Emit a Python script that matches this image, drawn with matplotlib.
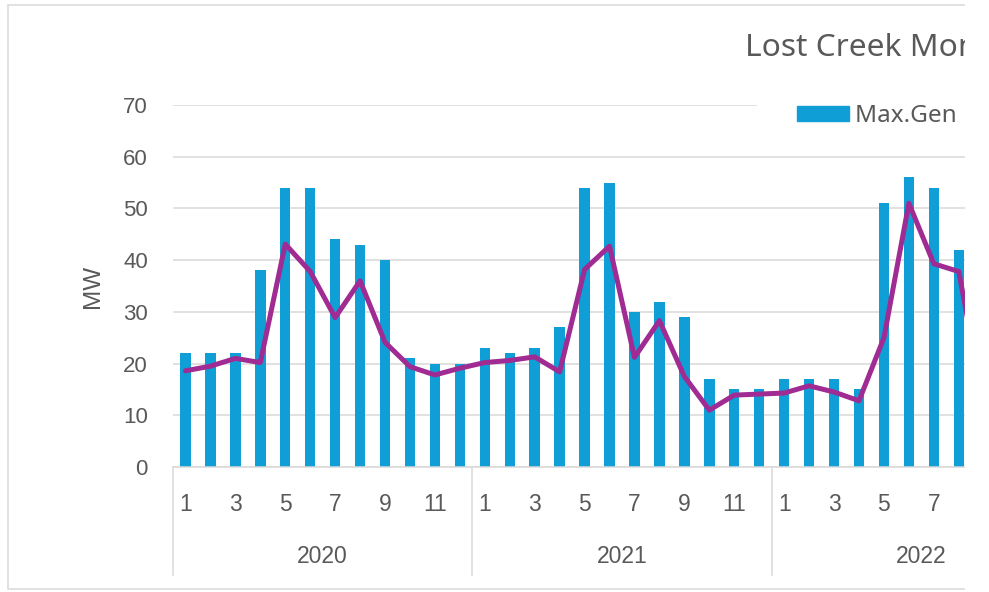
import matplotlib
matplotlib.use("Agg")
import matplotlib.pyplot as plt
from matplotlib.patches import Rectangle
from matplotlib.transforms import blended_transform_factory
import numpy as np

# monthly data, Jan 2020 .. Sep 2022 (chart is cut off on the right)
years = ["2020", "2021", "2022"]
months = [1, 2, 3, 4, 5, 6, 7, 8, 9, 10, 11, 12]
max_gen = [22, 22, 22, 38, 54, 54, 44, 43, 40, 21, 20, 20,
           23, 22, 23, 27, 54, 55, 30, 32, 29, 17, 15, 15,
           17, 17, 17, 15, 51, 56, 54, 42, 30]
avg_gen = [18.6, 19.5, 21.0, 20.2, 43.1, 37.8, 28.9, 36.0, 24.1, 19.4, 17.8, 19.1,
           20.2, 20.6, 21.3, 18.4, 38.2, 42.7, 21.2, 28.3, 17.5, 11.0, 13.9, 14.1,
           14.3, 15.7, 14.5, 12.8, 25.0, 51.0, 39.3, 37.8, 12.0]

BAR_COLOR = "#0F9ED5"
LINE_COLOR = "#A02B93"
GRID_COLOR = "#D9D9D9"
TEXT_COLOR = "#595959"

W, H = 989, 592
plt.rcParams["font.family"] = ["Liberation Sans", "DejaVu Sans"]

fig = plt.figure(figsize=(W / 100, H / 100), dpi=100)


def px(x0, y0, x1, y1):
    """pixel box (top-left origin) -> figure fraction rect"""
    return [x0 / W, 1 - y1 / H, (x1 - x0) / W, (y1 - y0) / H]


ax = fig.add_axes(px(173, 105, 965, 467))

n = len(max_gen)
x = np.arange(n)
ax.bar(x, max_gen, width=0.42, color=BAR_COLOR, zorder=2)
ax.plot(x, avg_gen, color=LINE_COLOR, lw=3.6, solid_joinstyle="round",
        solid_capstyle="round", zorder=3)

# month ticks (odd months only)
month_labels = [m for _ in years for m in months][:n]
odd = [i for i in range(n) if month_labels[i] % 2 == 1]
ax.set_xticks(odd)
ax.set_xticklabels([str(month_labels[i]) for i in odd])
ax.tick_params(axis="x", length=0, pad=19, labelsize=16.5, labelcolor=TEXT_COLOR)
ax.tick_params(axis="y", length=0, pad=18, labelsize=16, labelcolor=TEXT_COLOR)

# limits after set_xticks (it would widen the view otherwise)
ax.set_xlim(-0.5, 31.25)
ax.set_ylim(0, 70)
ax.set_yticks(range(0, 71, 10))
ax.grid(axis="y", color=GRID_COLOR, lw=1.1, zorder=0)
ax.set_axisbelow(True)
for s in ["top", "right", "left"]:
    ax.spines[s].set_visible(False)
ax.spines["bottom"].set_color(GRID_COLOR)
ax.spines["bottom"].set_linewidth(1.1)

# year labels and separators
trans = blended_transform_factory(ax.transData, ax.transAxes)
for k, yr in enumerate(years):
    left = k * 12 - 0.5
    ax.plot([left, left], [0, -0.298], transform=trans, color=GRID_COLOR,
            lw=1.1, clip_on=False)
    ax.text(left + 6, -0.246, yr, transform=trans, ha="center", va="center",
            fontsize=16.5, color=TEXT_COLOR, clip_on=False)
ax.set_xlim(-0.5, 31.25)

ax.set_ylabel("MW", fontsize=17.5, color=TEXT_COLOR, labelpad=14)

# outer chart border
fig.add_artist(Rectangle((8 / W, 1 - 589 / H), (W - 8) / W, (589 - 5) / H,
                         transform=fig.transFigure, fill=False,
                         edgecolor=GRID_COLOR, lw=1.1, zorder=1))

# legend area (hides top gridline)
fig.add_artist(Rectangle((757 / W, 1 - 130 / H), (965 - 757) / W, 28 / H,
                         transform=fig.transFigure, facecolor="white",
                         edgecolor="none", zorder=2))
bar_h = plt.Rectangle((0, 0), 1, 1, color=BAR_COLOR)
line_h = plt.Line2D([], [], color=LINE_COLOR, lw=3.6)
fig.legend([bar_h, line_h], ["Max.Gen MW", "Avg.Gen MW"], ncol=2,
           loc="center left", bbox_to_anchor=(797 / W, 1 - 116 / H),
           frameon=False, handlelength=2.14, handleheight=0.62,
           handletextpad=0.25, borderpad=0, borderaxespad=0,
           labelcolor=TEXT_COLOR, prop={"family": "Noto Sans", "size": 17.5})

fig.text(745 / W, 1 - 48 / H, "Lost Creek Monthly Generation", ha="left",
         va="center", fontsize=22.8, color=TEXT_COLOR, family="Noto Sans",
         zorder=3)

# the reference image is cropped here
fig.add_artist(Rectangle((965 / W, 0), (W - 965) / W, 1,
                         transform=fig.transFigure, facecolor="white",
                         edgecolor="none", zorder=10))

fig.savefig("out.png", dpi=100)
